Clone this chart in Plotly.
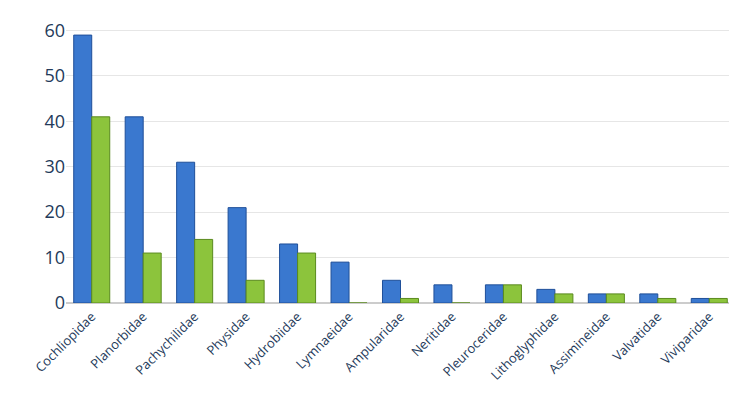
import plotly.graph_objects as go

families = ["Cochliopidae","Planorbidae","Pachychilidae","Physidae","Hydrobiidae","Lymnaeidae",
            "Ampularidae","Neritidae","Pleuroceridae","Lithoglyphidae","Assimineidae","Valvatidae","Viviparidae"]
series_blue = [59,41,31,21,13,9,5,4,4,3,2,2,1]
series_green = [41,11,14,5,11,0,1,0,4,2,2,1,1]

fig = go.Figure()
fig.add_bar(x=families, y=series_blue, marker=dict(color="#3a78cf", line=dict(color="#1f4f99", width=1)))
fig.add_bar(x=families, y=series_green, marker=dict(color="#8cc43c", line=dict(color="#5a8a1e", width=1)))
fig.update_layout(
    width=737, height=417, barmode="group", bargap=0.3, bargroupgap=0.0,
    showlegend=False, plot_bgcolor="white", paper_bgcolor="white",
    margin=dict(l=58, r=10, t=12, b=122),
    font=dict(family="Open Sans", color="#243a5a"),
    yaxis=dict(range=[0, 61], tickvals=[0,10,20,30,40,50,60], showgrid=True, gridcolor="#e6e6e6",
               tickfont=dict(size=18), ticks="", zeroline=True, zerolinecolor="#cccccc"),
    xaxis=dict(tickangle=-45, tickfont=dict(size=13), showline=True, linecolor="#cccccc"),
)
fig.write_html("out.html")
